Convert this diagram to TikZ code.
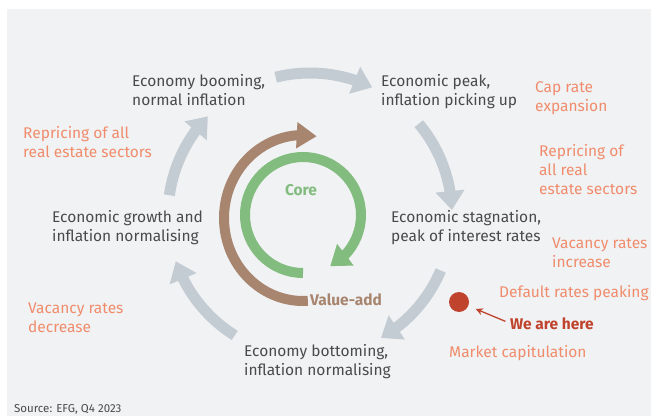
\documentclass[tikz,border=0pt]{standalone}
\usepackage{fontspec}
\setmainfont{Fira Sans}
\usepackage{xcolor}
\usepackage{tikz}
\usetikzlibrary{arrows.meta, bending}

\definecolor{panelgray}{HTML}{F1F2F4}
\definecolor{ringgray}{HTML}{C4CCD3}
\definecolor{stagegray}{HTML}{4A4A4A}
\definecolor{noteorange}{HTML}{F08C6C}
\definecolor{herered}{HTML}{C0432D}
\definecolor{coregreen}{HTML}{82BC7E}
\definecolor{valbrown}{HTML}{A7856E}

\begin{document}
\begin{tikzpicture}[x=1pt,y=1pt,inner sep=0pt,font=\fontsize{15.5}{19}\selectfont]
                \tikzset{every stage/.style={anchor=base west, align=left, text=stagegray},
                         every note/.style={anchor=base west, align=left, text=noteorange},
                         bigarrow/.style={ringgray, line width=11pt, -{Triangle[width=28pt,length=19pt]}}}
                \useasboundingbox (0,0) rectangle (651,416);
                \fill[panelgray] (7,0) rectangle (651,407);
                % centres of the rings
                \coordinate (O) at (310,201);
                \coordinate (B) at (303,198);
                \coordinate (C) at (303,201);
                % stages of the cycle (placed at the last baseline)
                \node[every stage] (A) at (132,310) {Economy booming,\\normal inflation};
                \node[every stage] (P) at (381,310) {Economic peak,\\inflation picking up};
                \node[every stage] (S) at (391,175) {Economic stagnation,\\peak of interest rates};
                \node[every stage] (T) at (244,41) {Economy bottoming,\\inflation normalising};
                \node[every stage] (G) at (52,175) {Economic growth and\\inflation normalising};
                % notes
                \node[every note] (cap) at (535,305) {Cap rate\\expansion};
                \node[every note] (rpR) at (539,222) {Repricing of\\all real\\estate sectors};
                \node[every note] (vcI) at (552,149) {Vacancy rates\\increase};
                \node[every note] (dft) at (499,119) {Default rates peaking};
                \node[every note] (mkt) at (449,59) {Market capitulation};
                \node[every note] (vcD) at (28,84) {Vacancy rates\\decrease};
                \node[every note] (rpL) at (23,259) {Repricing of all\\real estate sectors};
                \node[anchor=base west, text=stagegray, font=\fontsize{11.5}{14}\selectfont] (src) at (14,4) {Source: EFG, Q4 2023};
                % we are here
                \node[circle, fill=herered, minimum size=20pt] (dot) at (459,114) {};
                \node[anchor=base west, text=herered, font=\fontsize{15.5}{19}\selectfont\bfseries] (here) at (510,87) {We are here};
                \draw[herered, line width=1.3pt, -{Stealth[length=7pt,width=7pt]}, shorten <=5pt, shorten >=8pt] (here.west) -- (dot);
                % outer cycle
                \draw[bigarrow] ([shift={(104:142pt)}]O) arc[start angle=104, end angle=64, radius=142pt];
                \draw[bigarrow] ([shift={(40:142pt)}]O) arc[start angle=40, end angle=2, radius=142pt];
                \draw[bigarrow] ([shift={(-23:142pt)}]O) arc[start angle=-23, end angle=-60, radius=142pt];
                \draw[bigarrow] ([shift={(238:142pt)}]O) arc[start angle=238, end angle=199, radius=142pt];
                \draw[bigarrow] ([shift={(172:142pt)}]O) arc[start angle=172, end angle=136, radius=142pt];
                % inner rings
                \draw[valbrown, line width=10pt, -{Triangle[width=25pt,length=20pt]}] ([shift={(273.5:79pt and 83pt)}]B) arc[start angle=273.5, end angle=80, x radius=79pt, y radius=83pt];
                \draw[coregreen, line width=10pt, -{Triangle[width=26pt,length=19pt]}] ([shift={(270:58pt)}]C) arc[start angle=270, end angle=-62, radius=58pt];
                \node[text=coregreen, font=\fontsize{15.5}{19}\selectfont\bfseries] (core) at (301,226) {Core};
                \node[anchor=base west, text=valbrown, font=\fontsize{15.5}{19}\selectfont\bfseries] (va) at (310,111) {Value-add};
            \end{tikzpicture}
\end{document}
